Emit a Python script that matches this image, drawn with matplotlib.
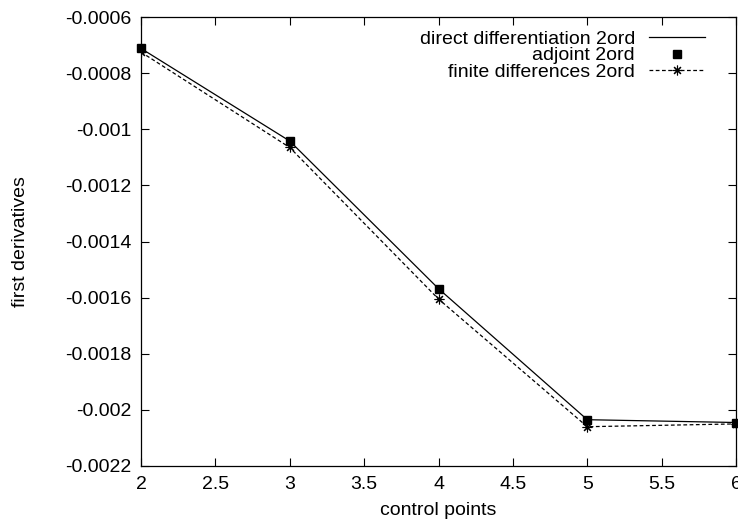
import matplotlib
matplotlib.use("Agg")
import matplotlib.pyplot as plt
from matplotlib.ticker import FuncFormatter, MultipleLocator

plt.rcParams['font.family'] = ['Liberation Sans', 'DejaVu Sans']
plt.rcParams['font.size'] = 14

# first derivatives vs control point index
control_points = [2, 3, 4, 5, 6]
direct_2ord = [-0.000712, -0.001042, -0.001568, -0.002035, -0.002045]
adjoint_2ord = [-0.000712, -0.001042, -0.001568, -0.002035, -0.002045]
finite_diff_2ord = [-0.000725, -0.001065, -0.001605, -0.002060, -0.002050]

fig = plt.figure(figsize=(7.38, 5.28), dpi=100)
ax = fig.add_axes([141 / 738, 1 - 466 / 528, 595 / 738, 449 / 528])

ax.plot(control_points, direct_2ord, 'k-', lw=0.9,
        label='direct differentiation 2ord')
ax.plot(control_points, adjoint_2ord, 'ks', ms=6, ls='none',
        label='adjoint 2ord', clip_on=False, zorder=3)
# (8, 2, 0): eight-spoke asterisk, like gnuplot's point type 3
ax.plot(control_points, finite_diff_2ord, color='k', ls=(0, (3, 2)), lw=0.9,
        marker=(8, 2, 0), ms=7, mew=0.8, label='finite differences 2ord')

ax.set_xlim(2, 6)
ax.set_ylim(-0.0022, -0.0006)
ax.xaxis.set_major_locator(MultipleLocator(0.5))
ax.yaxis.set_major_locator(MultipleLocator(0.0002))
fmt = FuncFormatter(lambda v, pos: '%g' % round(v, 8))
ax.xaxis.set_major_formatter(fmt)
ax.yaxis.set_major_formatter(fmt)
ax.tick_params(direction='in', length=6, width=0.8, top=True, right=True)
ax.tick_params(axis='x', pad=7.5)
ax.tick_params(axis='y', pad=7)
for s in ax.spines.values():
    s.set_linewidth(0.9)

ax.set_xlabel('control points', labelpad=6)
ax.set_ylabel('first derivatives', labelpad=26)

ax.legend(loc='upper right', frameon=False, markerfirst=False,
          handlelength=2.9, handletextpad=0.7, labelspacing=-0.04,
          borderaxespad=0, borderpad=0,
          bbox_to_anchor=(705 / 738, 1 - 30 / 528),
          bbox_transform=fig.transFigure)

fig.savefig('out.png', dpi=100)
